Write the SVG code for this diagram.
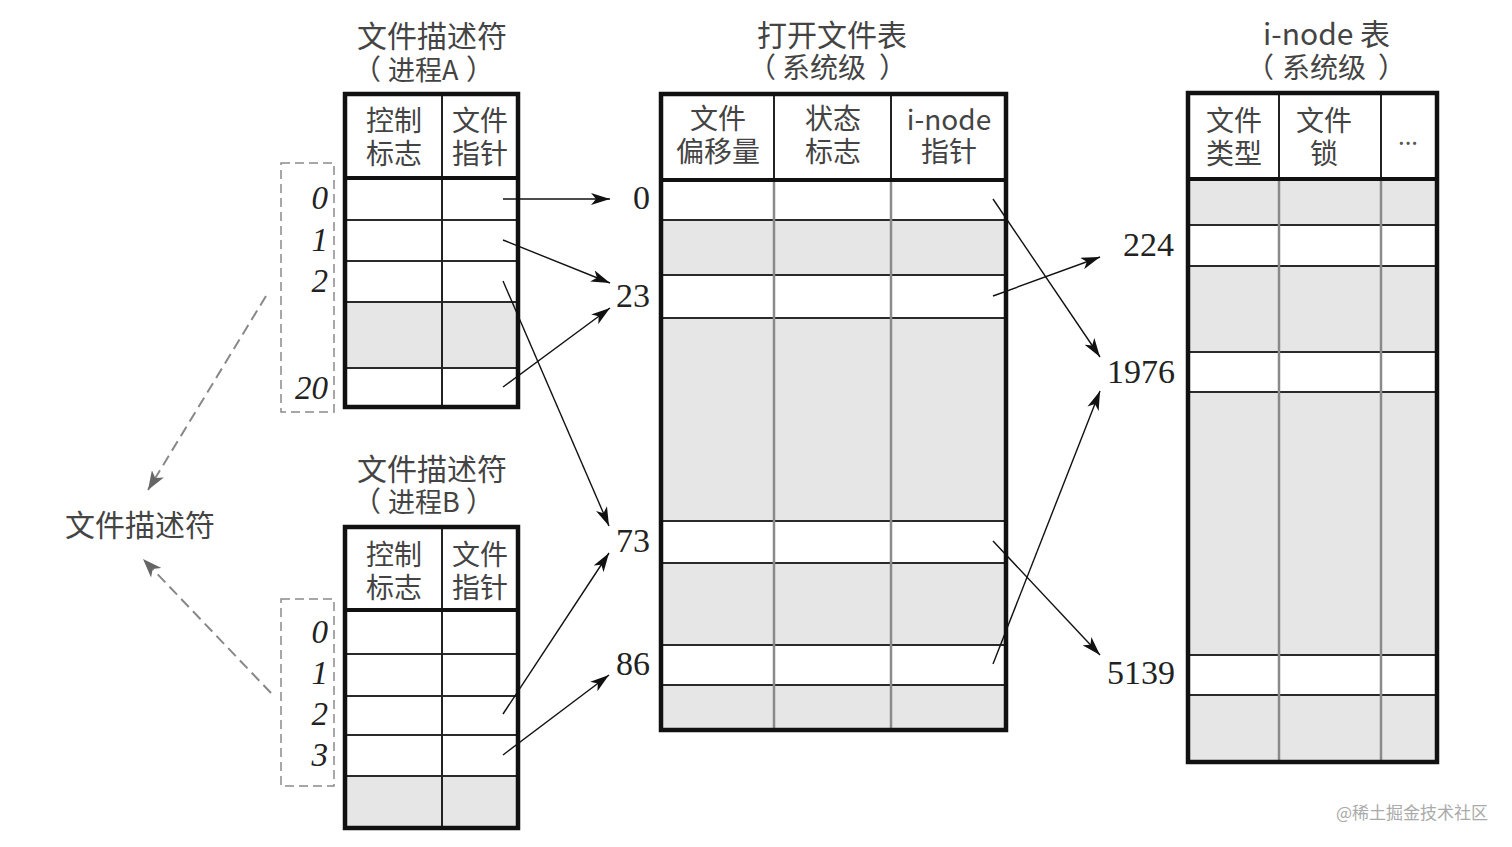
<svg xmlns="http://www.w3.org/2000/svg" width="1512" height="847" viewBox="0 0 1512 847">
<defs>
<style>
.cjk{font-family:"Noto Sans CJK SC","Noto Sans",sans-serif;font-size:28px;fill:#444;text-anchor:middle}
.ttl{font-size:30px}
.st{text-anchor:start}
.num{font-family:"Liberation Serif","DejaVu Serif",serif;font-size:34px;fill:#222}
.idx{font-family:"Liberation Serif","DejaVu Serif",serif;font-size:33px;font-style:italic;fill:#222;text-anchor:end}
.gray{fill:#e6e6e6}
.row{stroke:#2a2a2a;stroke-width:2;fill:none}
.vcol{stroke:#222;stroke-width:2;fill:none}
.vgray{stroke:#8a8a8a;stroke-width:2.5;fill:none}
.outer{stroke:#111;stroke-width:4.5;fill:none}
.hdr{stroke:#111;stroke-width:4;fill:none}
.dbox{stroke:#8a8a8a;stroke-width:1.5;stroke-dasharray:9 5;fill:none}
.conn{stroke:#111;stroke-width:1.4;fill:none;marker-end:url(#ah)}
.dconn{stroke:#888;stroke-width:2;stroke-dasharray:11 6;fill:none;marker-end:url(#dah)}
</style>
<marker id="ah" markerUnits="userSpaceOnUse" markerWidth="20" markerHeight="12" refX="19" refY="6" orient="auto">
<path d="M0,0 L19,6 L0,12 L5,6 Z" fill="#111"/>
</marker>
<marker id="dah" markerUnits="userSpaceOnUse" markerWidth="20" markerHeight="14" refX="19" refY="7" orient="auto">
<path d="M0,0 L19,7 L0,14 L5,7 Z" fill="#666"/>
</marker>
</defs>
<rect width="1512" height="847" fill="#fff"/>

<g id="fd-table-a">
<text class="cjk st"><tspan class="ttl" x="357" y="47">文件描述符</tspan><tspan x="353" y="80">（</tspan><tspan x="388" y="80" style="font-size:27px">进程A</tspan><tspan x="466" y="80">）</tspan></text>
<rect class="gray" x="345" y="302" width="173" height="66"/>
<path class="row" d="M345,220H518M345,261H518M345,302H518M345,368H518"/>
<path class="vcol" d="M442,94V407"/>
<path class="hdr" d="M345,178H518"/>
<rect class="outer" x="345" y="94" width="173" height="313"/>
<text class="cjk"><tspan x="394" y="131">控制</tspan><tspan x="394" y="164">标志</tspan></text>
<text class="cjk"><tspan x="480" y="131">文件</tspan><tspan x="480" y="164">指针</tspan></text>
<rect class="dbox" x="281" y="163" width="53" height="249"/>
<text class="idx" x="328" y="209">0</text>
<text class="idx" x="328" y="251">1</text>
<text class="idx" x="328" y="292">2</text>
<text class="idx" x="328" y="399">20</text>
</g>

<g id="fd-table-b">
<text class="cjk st"><tspan class="ttl" x="357" y="480">文件描述符</tspan><tspan x="353" y="512">（</tspan><tspan x="388" y="512" style="font-size:27px">进程B</tspan><tspan x="466" y="512">）</tspan></text>
<rect class="gray" x="345" y="776" width="173" height="52"/>
<path class="row" d="M345,654H518M345,696H518M345,735H518M345,776H518"/>
<path class="vcol" d="M442,527V828"/>
<path class="hdr" d="M345,610H518"/>
<rect class="outer" x="345" y="527" width="173" height="301"/>
<text class="cjk"><tspan x="394" y="565">控制</tspan><tspan x="394" y="598">标志</tspan></text>
<text class="cjk"><tspan x="480" y="565">文件</tspan><tspan x="480" y="598">指针</tspan></text>
<rect class="dbox" x="281" y="599" width="53" height="187"/>
<text class="idx" x="328" y="643">0</text>
<text class="idx" x="328" y="684">1</text>
<text class="idx" x="328" y="725">2</text>
<text class="idx" x="328" y="766">3</text>
</g>

<g id="open-file-table">
<text class="cjk st"><tspan class="ttl" x="757" y="46">打开文件表</tspan><tspan x="748" y="78">（</tspan><tspan x="782" y="78">系统级</tspan><tspan x="879" y="78">）</tspan></text>
<rect class="gray" x="661" y="220" width="345" height="55"/>
<rect class="gray" x="661" y="318" width="345" height="203"/>
<rect class="gray" x="661" y="563" width="345" height="82"/>
<rect class="gray" x="661" y="685" width="345" height="45"/>
<path class="row" d="M661,220H1006M661,275H1006M661,318H1006M661,521H1006M661,563H1006M661,645H1006M661,685H1006"/>
<path class="vgray" d="M774,180V730M891,180V730"/>
<path class="vcol" d="M774,94V180M891,94V180"/>
<path class="hdr" d="M661,180H1006"/>
<rect class="outer" x="661" y="94" width="345" height="636"/>
<text class="cjk"><tspan x="718" y="129">文件</tspan><tspan x="718" y="162">偏移量</tspan></text>
<text class="cjk"><tspan x="833" y="129">状态</tspan><tspan x="833" y="162">标志</tspan></text>
<text class="cjk"><tspan x="949" y="130">i-node</tspan><tspan x="949" y="162">指针</tspan></text>
<text class="num" x="650" y="209" text-anchor="end">0</text>
<text class="num" x="650" y="307" text-anchor="end">23</text>
<text class="num" x="650" y="552" text-anchor="end">73</text>
<text class="num" x="650" y="675" text-anchor="end">86</text>
</g>

<g id="inode-table">
<text class="cjk st"><tspan class="ttl" x="1263" y="45">i-node 表</tspan><tspan x="1246" y="78">（</tspan><tspan x="1282" y="78">系统级</tspan><tspan x="1378" y="78">）</tspan></text>
<rect class="gray" x="1188" y="179" width="249" height="46"/>
<rect class="gray" x="1188" y="266" width="249" height="86"/>
<rect class="gray" x="1188" y="392" width="249" height="263"/>
<rect class="gray" x="1188" y="695" width="249" height="67"/>
<path class="row" d="M1188,225H1437M1188,266H1437M1188,352H1437M1188,392H1437M1188,655H1437M1188,695H1437"/>
<path class="vgray" d="M1279,179V762M1381,179V762"/>
<path class="vcol" d="M1279,93V179M1381,93V179"/>
<path class="hdr" d="M1188,179H1437"/>
<rect class="outer" x="1188" y="93" width="249" height="669"/>
<text class="cjk"><tspan x="1234" y="131">文件</tspan><tspan x="1234" y="164">类型</tspan></text>
<text class="cjk"><tspan x="1324" y="131">文件</tspan><tspan x="1324" y="164">锁</tspan></text>
<text class="cjk" x="1408" y="145" style="font-size:24px;fill:#555">...</text>
<text class="num" x="1174" y="256" text-anchor="end">224</text>
<text class="num" x="1175" y="383" text-anchor="end">1976</text>
<text class="num" x="1175" y="684" text-anchor="end">5139</text>
</g>

<g id="fd-label">
<text class="cjk ttl" x="140" y="536">文件描述符</text>
</g>

<g id="connectors">
<path class="dconn" d="M266,296L148,490"/>
<path class="dconn" d="M271,693L143,559"/>
<path class="conn" d="M503,199L610,199"/>
<path class="conn" d="M503,240L610,283"/>
<path class="conn" d="M503,281L609,526"/>
<path class="conn" d="M503,387L610,308"/>
<path class="conn" d="M503,714L609,553"/>
<path class="conn" d="M503,755L609,675"/>
<path class="conn" d="M993,199L1100,357"/>
<path class="conn" d="M993,296L1100,257"/>
<path class="conn" d="M993,541L1100,655"/>
<path class="conn" d="M993,664L1100,391"/>
</g>

<text x="1488" y="819" text-anchor="end" style="font-family:'Noto Sans CJK SC','Noto Sans',sans-serif;font-size:17px;fill:#aaa">@稀土掘金技术社区</text>
</svg>
